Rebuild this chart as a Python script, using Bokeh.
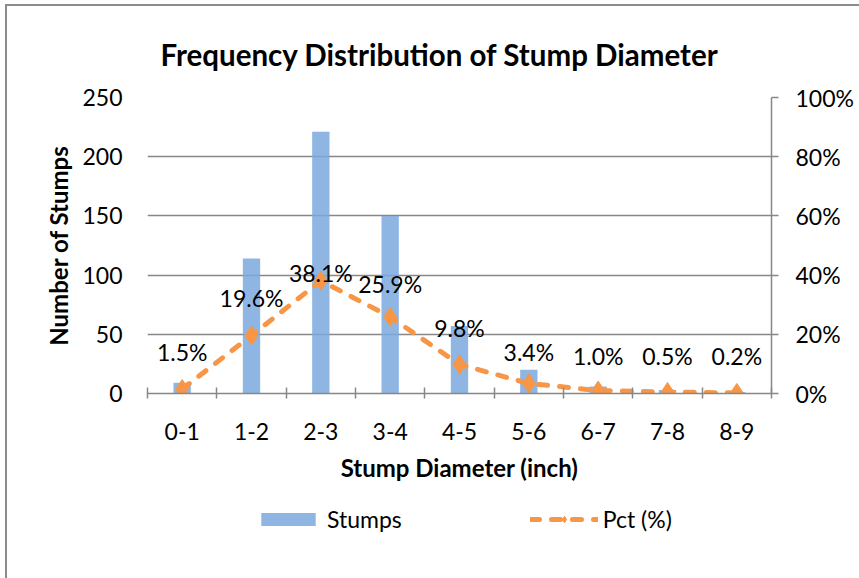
from bokeh.plotting import figure
from bokeh.layouts import column
from bokeh.models import (Range1d, LinearAxis, FixedTicker, PrintfTickFormatter,
                          ColumnDataSource, Legend, LegendItem)
from bokeh.core.properties import value
from bokeh.embed import file_html
from bokeh.resources import INLINE

# Stump diameter classes (inch), stump counts and share of all stumps (%)
categories = ["0-1", "1-2", "2-3", "3-4", "4-5", "5-6", "6-7", "7-8", "8-9"]
stumps = [9, 114, 221, 150, 57, 20, 6, 3, 1]
pct = [1.5, 19.6, 38.1, 25.9, 9.8, 3.4, 1.0, 0.5, 0.2]
count_ticks = [0, 50, 100, 150, 200, 250]
pct_ticks = [0, 20, 40, 60, 80, 100]
# vertical lift (px) of each percentage label above its point
label_lift = [37, 37, 8, 33, 36, 31, 35, 36, 37]

FONT = "Lato"
GRID = "#878787"
BLUE = "#7BA8DE"
ORANGE = "#F79646"
TICK_SIZE = "23px"
AXIS_TITLE_SIZE = "24px"

centers = [i + 0.5 for i in range(len(categories))]
src = ColumnDataSource(dict(
    x=centers, stumps=stumps, pct=pct,
    txt=[f"{v:.1f}%" for v in pct], lift=[-v for v in label_lift],
))

p = figure(width=852, height=497, output_backend="svg", toolbar_location=None,
           x_range=Range1d(0, len(categories)), y_range=Range1d(0, 250),
           min_border_left=140, min_border_top=91, min_border_right=88,
           min_border_bottom=110, outline_line_color=None,
           title="Frequency Distribution of Stump Diameter")

p.title.text_font = FONT
p.title.text_font_size = "29.5px"
p.title.text_font_style = "bold"
p.title.text_color = "#000000"
p.title.align = "left"
p.title.offset = 13
p.title.standoff = 52

p.extra_y_ranges = {"pct": Range1d(0, 100)}

# left count axis (no axis line, gridlines start at the frame)
p.yaxis.ticker = FixedTicker(ticks=count_ticks)
p.yaxis.axis_line_color = None
p.yaxis.major_tick_line_color = None
p.yaxis.minor_tick_line_color = None
p.yaxis.major_tick_out = 0
p.yaxis.major_label_standoff = 25
p.yaxis.major_label_text_font = FONT
p.yaxis.major_label_text_font_size = TICK_SIZE
p.yaxis.major_label_text_color = "#000000"
p.yaxis.axis_label = "Number of Stumps"
p.yaxis.axis_label_text_font = FONT
p.yaxis.axis_label_text_font_size = AXIS_TITLE_SIZE
p.yaxis.axis_label_text_font_style = "bold"
p.yaxis.axis_label_text_color = "#000000"
p.yaxis.axis_label_standoff = 6

# right percentage axis
ax2 = LinearAxis(y_range_name="pct", ticker=FixedTicker(ticks=pct_ticks),
                 formatter=PrintfTickFormatter(format="%d%%"))
ax2.axis_line_color = GRID
ax2.axis_line_width = 1.5
ax2.major_tick_line_color = GRID
ax2.major_tick_line_width = 1.5
ax2.major_tick_in = 0
ax2.major_tick_out = 7
ax2.minor_tick_line_color = None
ax2.major_label_standoff = 17
ax2.major_label_text_font = FONT
ax2.major_label_text_font_size = TICK_SIZE
ax2.major_label_text_color = "#000000"
p.add_layout(ax2, "right")

# category axis: tick marks at class boundaries, labels at class centers
xa = p.xaxis[0]
xa.ticker = FixedTicker(ticks=centers, minor_ticks=list(range(len(categories) + 1)))
xa.major_label_overrides = {c: lab for c, lab in zip(centers, categories)}
xa.major_tick_line_color = None
xa.major_tick_in = 0
xa.major_tick_out = 0
xa.minor_tick_line_color = GRID
xa.minor_tick_line_width = 1.5
xa.minor_tick_in = 6
xa.minor_tick_out = 5
xa.axis_line_color = GRID
xa.axis_line_width = 1.5
xa.major_label_standoff = 24
xa.major_label_text_font = FONT
xa.major_label_text_font_size = TICK_SIZE
xa.major_label_text_color = "#000000"
xa.axis_label = "Stump Diameter (inch)"
xa.axis_label_text_font = FONT
xa.axis_label_text_font_size = AXIS_TITLE_SIZE
xa.axis_label_text_font_style = "bold"
xa.axis_label_text_color = "#000000"
xa.axis_label_standoff = 10

p.xgrid.grid_line_color = None
p.ygrid.ticker = FixedTicker(ticks=count_ticks)
p.ygrid.grid_line_color = GRID
p.ygrid.grid_line_width = 1.5

bar_style = dict(fill_color=BLUE, fill_alpha=0.85, line_color=None)
line_style = dict(line_color=ORANGE, line_width=5, line_dash="9 12",
                  line_cap="round", line_join="round")
marker_style = dict(marker="diamond", size=19, fill_color=ORANGE, line_color=ORANGE)

p.vbar(x="x", top="stumps", width=0.25, source=src, **bar_style)
p.line(x="x", y="pct", source=src, y_range_name="pct", **line_style)
p.scatter(x="x", y="pct", source=src, y_range_name="pct", **marker_style)

p.text(x="x", y="pct", text="txt", source=src, y_range_name="pct",
       y_offset="lift", text_align="center", text_baseline="middle",
       text_font=value(FONT), text_font_size=TICK_SIZE, text_color="#000000")

# legend strip under the chart: the series are re-plotted here outside the
# visible range so that only their legend samples show
key = figure(width=852, height=75, output_backend="svg", toolbar_location=None,
             x_range=Range1d(100, 101), y_range=Range1d(1000, 1001),
             min_border=0, outline_line_color=None)
key.axis.visible = False
key.grid.grid_line_color = None
k_bar = key.vbar(x="x", top="stumps", width=0.25, source=src, **bar_style)
k_line = key.line(x="x", y="pct", source=src, **line_style)
k_pts = key.scatter(x="x", y="pct", source=src, **marker_style)

legend = Legend(items=[LegendItem(label="Stumps", renderers=[k_bar]),
                       LegendItem(label="Pct (%)", renderers=[k_line, k_pts])],
                orientation="horizontal", location=(107, 45),
                glyph_width=68, glyph_height=16, spacing=128,
                label_text_font=FONT, label_text_font_size=TICK_SIZE,
                label_text_color="#000000", border_line_color=None,
                background_fill_alpha=0, margin=0, padding=0)
key.add_layout(legend)

page = column(p, key, spacing=0,
              styles={"margin-left": "5px", "margin-top": "4px",
                      "border-left": "2px solid #8c8c8c",
                      "border-top": "2px solid #8c8c8c"})

open("out.html", "w").write(file_html(page, INLINE))
